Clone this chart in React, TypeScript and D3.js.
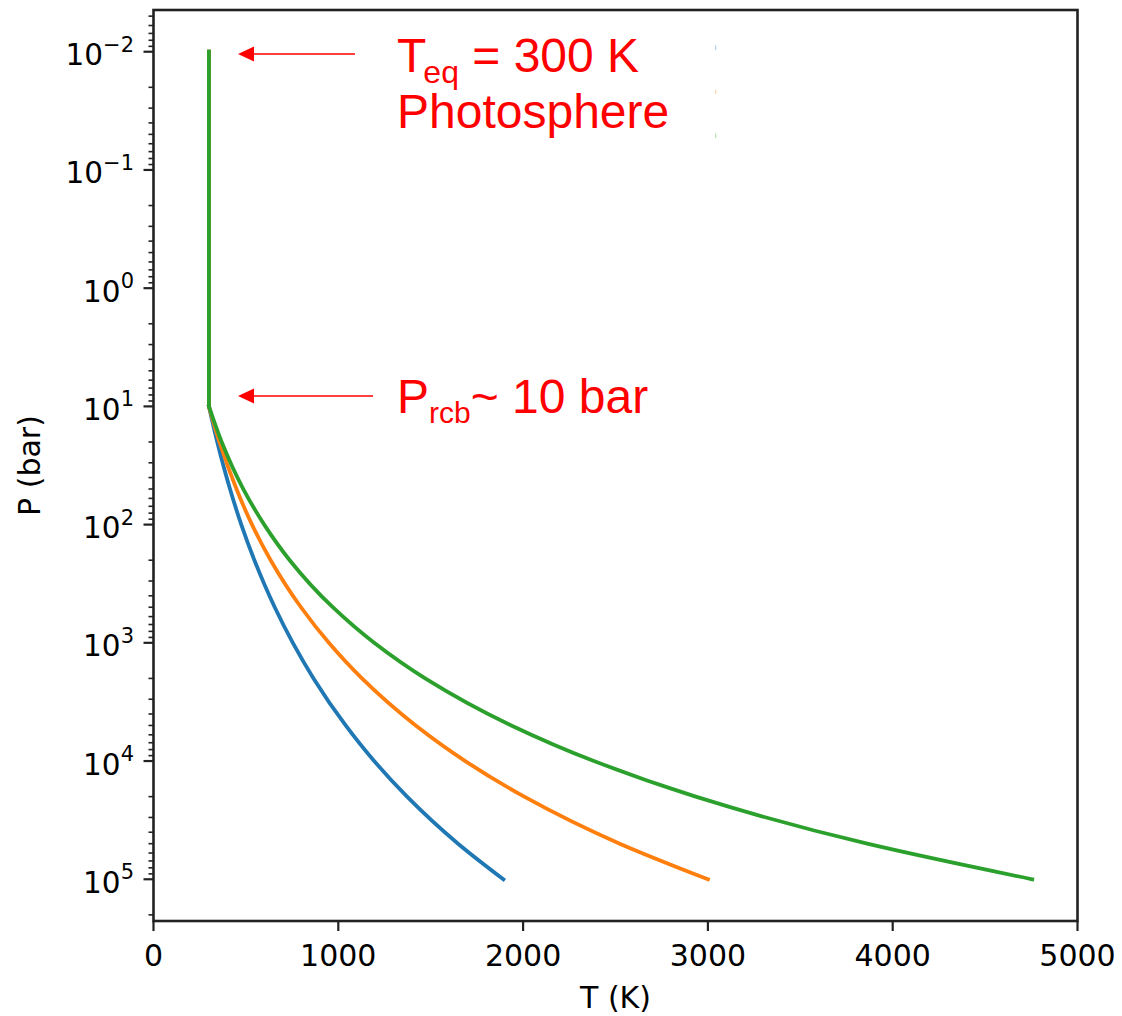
import React from "react";
import * as d3 from "d3";

// Pressure levels (bar) along the convective part
const pressures = [10, 20, 50, 100, 200, 500, 1000, 2000, 5000, 10000, 20000, 50000, 100000];
// Temperatures (K) at those pressures
const blueT = [300, 345, 414, 475, 546, 656, 754, 866, 1040, 1194, 1372, 1648, 1893];
const orangeT = [300, 357, 449, 533, 634, 798, 949, 1128, 1419, 1687, 2006, 2523, 3000];
const greenT = [300, 369, 486, 599, 737, 970, 1194, 1470, 1936, 2383, 2934, 3862, 4755];
// Isothermal (radiative) part
const isoP = [0.01, 10];
const isoT = [300, 300];

const seriesNames = ["blue", "orange", "green"];
const seriesTemps = [blueT, orangeT, greenT];
const seriesColors = ["#1f77b4", "#ff7f0e", "#2ca02c"];

const xTicks = [0, 1000, 2000, 3000, 4000, 5000];
const yExps = [-2, -1, 0, 1, 2, 3, 4, 5];

const W = 1122;
const H = 1016;
const L = 153.5, R = 1077.5, T = 10, B = 921;

export default function App() {
  const x = d3.scaleLinear().domain([0, 5000]).range([L, R]);
  const y = d3.scaleLog().domain([Math.pow(10, -2.353), Math.pow(10, 5.353)]).range([T, B]);

  const lineIso = d3
    .line<[number, number]>()
    .x((d) => x(d[0]))
    .y((d) => y(d[1]));
  const lineAd = d3
    .line<[number, number]>()
    .x((d) => x(d[0]))
    .y((d) => y(d[1]))
    .curve(d3.curveMonotoneY);

  const [d0, d1] = y.domain();
  const minor: number[] = [];
  for (let n = -3; n <= 5; n++) {
    for (let k = 2; k <= 9; k++) {
      const v = k * Math.pow(10, n);
      if (v >= d0 && v <= d1) minor.push(v);
    }
  }

  const minus = "\u2212";
  const tickFont = "'DejaVu Sans', sans-serif";
  const annFont = "'Liberation Sans', Arial, sans-serif";

  return (
    <svg
      width={W}
      height={H}
      style={{ position: "absolute", left: 0, top: 0, background: "#fff" }}
    >
      <rect x={0} y={0} width={W} height={H} fill="#fff" />

      {/* curves */}
      {seriesTemps.map((temps, i) => {
        const iso: [number, number][] = isoT.map((t, j) => [t, isoP[j]]);
        const ad: [number, number][] = temps.map((t, j) => [t, pressures[j]]);
        return (
          <g key={seriesNames[i]} fill="none" stroke={seriesColors[i]} strokeWidth={3.8} strokeLinecap="square">
            <path d={lineIso(iso) || ""} />
            <path d={lineAd(ad) || ""} />
          </g>
        );
      })}

      {/* faint legend remnants */}
      {seriesColors.map((c, i) => (
        <line key={c} x1={715.7} x2={715.7} y1={45.5 + i * 44} y2={50 + i * 44} stroke={c} strokeOpacity={0.35} strokeWidth={1.2} />
      ))}

      {/* spines */}
      <rect x={L} y={T} width={R - L} height={B - T} fill="none" stroke="#222" strokeWidth={2.6} />

      {/* x ticks */}
      {xTicks.map((v) => (
        <g key={v}>
          <line x1={x(v)} x2={x(v)} y1={B} y2={B + 10} stroke="#222" strokeWidth={2.2} />
          <text x={x(v)} y={966} textAnchor="middle" fontFamily={tickFont} fontSize={30} fill="#000">
            {v}
          </text>
        </g>
      ))}

      {/* y minor ticks */}
      {minor.map((v) => (
        <line key={v} x1={L - 5} x2={L} y1={y(v)} y2={y(v)} stroke="#222" strokeWidth={1.6} />
      ))}

      {/* y major ticks */}
      {yExps.map((e) => {
        const v = Math.pow(10, e);
        return (
          <g key={e}>
            <line x1={L - 10} x2={L} y1={y(v)} y2={y(v)} stroke="#222" strokeWidth={2.2} />
            <text x={134} y={y(v) + 13.5} textAnchor="end" fontFamily={tickFont} fontSize={29.5} fill="#000">
              10
              <tspan dy={-13.5} fontSize={21}>
                {e < 0 ? minus + Math.abs(e) : String(e)}
              </tspan>
            </text>
          </g>
        );
      })}

      {/* axis labels */}
      <text x={(L + R) / 2} y={1008} textAnchor="middle" fontFamily={tickFont} fontSize={30} fill="#000">
        T (K)
      </text>
      <text
        transform={`translate(40,${(T + B) / 2}) rotate(-90)`}
        textAnchor="middle"
        fontFamily={tickFont}
        fontSize={30}
        fill="#000"
      >
        P (bar)
      </text>

      {/* annotations */}
      <line x1={355} y1={54} x2={254} y2={54} stroke="#ff0000" strokeWidth={1.4} />
      <path d="M238,54 L254,46.5 L254,61.5 Z" fill="#ff0000" />
      <line x1={373} y1={396} x2={254} y2={396} stroke="#ff0000" strokeWidth={1.4} />
      <path d="M238,396 L254,388.5 L254,403.5 Z" fill="#ff0000" />

      <text x={397} y={72} fontFamily={annFont} fontSize={48} fill="#ff0000">
        T
        <tspan dx={-3} dy={11} fontSize={32}>eq</tspan>
        <tspan dy={-11} fontSize={48}> = 300 K</tspan>
      </text>
      <text x={397} y={128} fontFamily={annFont} fontSize={48} fill="#ff0000">
        Photosphere
      </text>
      <text x={397} y={413} fontFamily={annFont} fontSize={48} fill="#ff0000">
        P
        <tspan dy={10} fontSize={30}>rcb</tspan>
        <tspan dy={-10} fontSize={48}>~ 10 bar</tspan>
      </text>
    </svg>
  );
}
